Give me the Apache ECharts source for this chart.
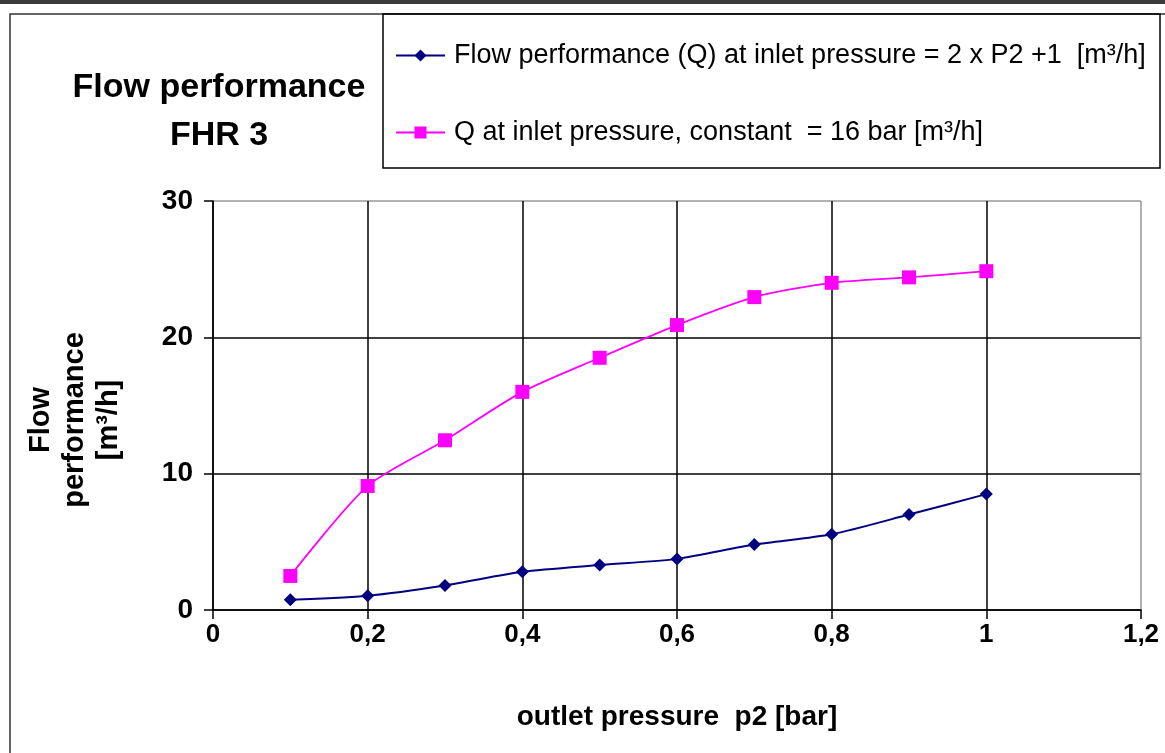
<!DOCTYPE html>
<html>
<head>
<meta charset="utf-8">
<script src="https://cdn.jsdelivr.net/npm/echarts@6/dist/echarts.min.js"></script>
<style>
html,body{margin:0;padding:0;background:#fff;}
#chart{width:1165px;height:753px;}
</style>
</head>
<body>
<div id="chart"></div>
<script>
// ---- data ----
const outletPressure = [0.1, 0.2, 0.3, 0.4, 0.5, 0.6, 0.7, 0.8, 0.9, 1.0];
const flowInletVariable = [0.75, 1.05, 1.8, 2.8, 3.3, 3.75, 4.8, 5.55, 7.0, 8.5];
const flowInlet16bar = [2.5, 9.1, 12.45, 16.0, 18.5, 20.9, 22.95, 24.0, 24.4, 24.85];
const xTickValues = [0, 0.2, 0.4, 0.6, 0.8, 1.0, 1.2];
const xTickLabels = ['0', '0,2', '0,4', '0,6', '0,8', '1', '1,2'];
const yTickLabels = ['0', '10', '20', '30'];
const seriesNames = [
  'Flow performance (Q) at inlet pressure = 2 x P2 +1  [m³/h]',
  'Q at inlet pressure, constant  = 16 bar [m³/h]'
];
const titleLines = ['Flow performance', 'FHR 3'];
const xAxisTitle = 'outlet pressure  p2 [bar]';
const yAxisTitle = 'Flow\nperformance\n[m³/h]';

const FONT = '"Liberation Sans", Arial, sans-serif';

const chart = echarts.init(document.getElementById('chart'), null, {renderer: 'canvas'});

function xLabel(v) {
  for (let i = 0; i < xTickValues.length; i++) {
    if (Math.abs(xTickValues[i] - v) < 1e-6) return xTickLabels[i];
  }
  return '';
}
function yLabel(v) {
  const i = Math.round(v / 10);
  return yTickLabels[i] !== undefined ? yTickLabels[i] : '';
}

const option = {
  backgroundColor: '#fff',
  animation: false,
  title: {
    text: titleLines.join('\n'),
    left: 214,
    top: 59,
    textAlign: 'center',
    textStyle: {
      fontFamily: FONT, fontWeight: 'bold', fontSize: 34, color: '#000',
      lineHeight: 48, align: 'center'
    }
  },
  graphic: [
    {type: 'rect', left: 0, top: 0, shape: {width: 1165, height: 4}, style: {fill: '#3a3a3a'}, z: 100},
    {type: 'rect', shape: {x: 10, y: 14, width: 1170, height: 760}, style: {fill: 'none', stroke: '#333', lineWidth: 1.5}, z: 100},
    {type: 'rect', shape: {x: 383, y: 14, width: 777, height: 154}, style: {fill: 'none', stroke: '#000', lineWidth: 1.5}, z: 100},
    {
      type: 'text',
      x: 75, y: 420,
      rotation: Math.PI / 2,
      style: {
        text: yAxisTitle,
        font: 'bold 29px "Liberation Sans", Arial, sans-serif',
        fill: '#000',
        align: 'center',
        verticalAlign: 'middle',
        lineHeight: 34
      },
      z: 50
    }
  ],
  legend: {
    orient: 'vertical',
    left: 395,
    top: 42,
    itemWidth: 49,
    itemHeight: 15,
    itemGap: 50,
    padding: 0,
    textStyle: {fontFamily: FONT, fontSize: 27, color: '#000', padding: [0, 0, 0, 4]},
    data: seriesNames
  },
  grid: {
    left: 213, right: 24, top: 201, bottom: 143,
    show: false,
    containLabel: false,
    outerBoundsMode: 'none'
  },
  xAxis: {
    type: 'value',
    min: 0, max: 1.2, interval: 0.2,
    name: xAxisTitle,
    nameLocation: 'middle',
    nameGap: 93,
    nameTextStyle: {fontFamily: FONT, fontWeight: 'bold', fontSize: 28, color: '#000'},
    axisLine: {show: true, onZero: false, lineStyle: {color: '#000', width: 1.5}},
    axisTick: {show: true, length: 9, lineStyle: {color: '#000', width: 1.5}},
    axisLabel: {formatter: xLabel, margin: 12, fontFamily: FONT, fontWeight: 'bold', fontSize: 26, color: '#000'},
    splitLine: {show: true, lineStyle: {color: ['#000', '#000', '#000', '#000', '#000', '#000', '#999'], width: 1.5}}
  },
  yAxis: {
    type: 'value',
    min: 0, max: 30, interval: 10,
    axisLine: {show: true, onZero: false, lineStyle: {color: '#000', width: 1.5}},
    axisTick: {show: true, length: 9, lineStyle: {color: '#000', width: 1.5}},
    axisLabel: {formatter: yLabel, margin: 20, fontFamily: FONT, fontWeight: 'bold', fontSize: 28, color: '#000'},
    splitLine: {show: true, lineStyle: {color: ['#000', '#000', '#000', '#999'], width: 1.5}}
  },
  series: [
    {
      name: seriesNames[0],
      type: 'line',
      data: outletPressure.map((x, i) => [x, flowInletVariable[i]]),
      smooth: 0.25,
      symbol: 'diamond',
      symbolSize: 13,
      lineStyle: {color: '#000080', width: 2},
      itemStyle: {color: '#000080'},
      z: 5
    },
    {
      name: seriesNames[1],
      type: 'line',
      data: outletPressure.map((x, i) => [x, flowInlet16bar[i]]),
      smooth: 0.25,
      symbol: 'rect',
      symbolSize: 14,
      lineStyle: {color: '#ff00ff', width: 1.8},
      itemStyle: {color: '#ff00ff'},
      z: 4
    }
  ]
};
chart.setOption(option);
</script>
</body>
</html>
